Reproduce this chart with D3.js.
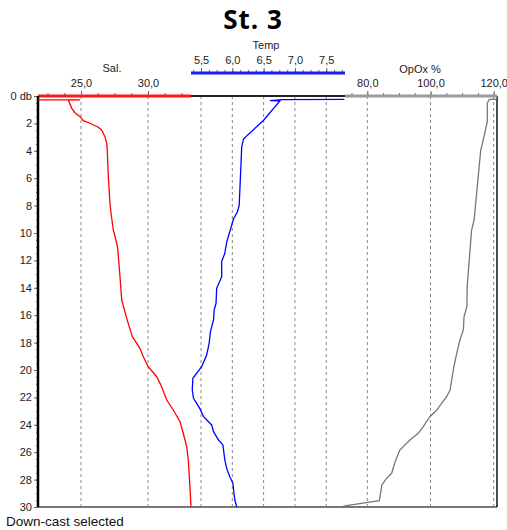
<!DOCTYPE html>
<meta charset="utf-8">
<script src="https://cdn.jsdelivr.net/npm/d3@7"></script>
<style>
body { margin: 0; background: #fff; }
svg { font-family: Arial, "Liberation Sans", sans-serif; }
.tick text { font-size: 11px; fill: #222; }
.tick line { stroke: #666; }
.grid { stroke: #888; stroke-dasharray: 3,3; stroke-width: 1; }
.trace { fill: none; stroke-width: 1.3px; }
</style>
<body>
<script>

// tick labels
var depthTicks = [0, 2, 4, 6, 8, 10, 12, 14, 16, 18, 20, 22, 24, 26, 28, 30];
var salTicks = [25, 30];
var tempTicks = [5.5, 6.0, 6.5, 7.0, 7.5];
var oxTicks = [80, 100, 120];

// salinity profile (db, value)
var salDepth = [0.29, 0.29, 0.30, 0.90, 1.22, 1.51, 1.80, 1.99, 2.28, 2.48, 2.97, 3.45, 3.94, 5.89, 7.83, 8.54, 9.78, 10.73, 11.12, 13.19, 14.89, 16.23, 17.57, 18.42, 19.03, 19.76, 20.49, 21.22, 22.19, 22.92, 23.77, 24.62, 25.60, 26.57, 28.52, 29.98];
var salValues = [21.8, 24.93, 24.05, 24.31, 24.55, 24.93, 25.17, 25.67, 26.29, 26.54, 26.79, 26.92, 26.96, 27.04, 27.16, 27.24, 27.41, 27.66, 27.74, 27.91, 28.04, 28.41, 28.83, 29.40, 29.65, 30.02, 30.65, 31.02, 31.40, 31.89, 32.39, 32.63, 32.89, 33.01, 33.13, 33.21];

// temperature profile
var tempDepth = [0.24, 0.26, 0.34, 0.36, 1.77, 3.12, 3.72, 7.98, 8.47, 8.96, 10.66, 11.48, 12.09, 13.19, 14.04, 15.13, 15.62, 16.35, 17.20, 18.05, 18.91, 19.76, 20.61, 21.46, 22.07, 22.80, 23.41, 24.01, 24.50, 25.11, 25.47, 26.57, 27.18, 27.79, 28.27, 28.76, 29.49, 29.98];
var tempValues = [7.79, 6.81, 6.60, 6.76, 6.50, 6.18, 6.15, 6.11, 6.08, 6.02, 5.91, 5.88, 5.83, 5.83, 5.75, 5.74, 5.71, 5.70, 5.65, 5.63, 5.59, 5.51, 5.37, 5.36, 5.38, 5.48, 5.54, 5.67, 5.70, 5.78, 5.85, 5.88, 5.91, 5.96, 6.01, 6.02, 6.04, 6.07];

// oxygen saturation profile
var oxDepth = [0.24, 0.24, 0.53, 1.88, 3.70, 3.94, 9.05, 9.78, 13.92, 15.38, 16.11, 17.08, 17.81, 18.78, 19.76, 20.73, 21.46, 21.95, 22.43, 22.92, 23.41, 24.14, 24.62, 25.11, 25.84, 26.69, 27.54, 27.91, 28.39, 29.54, 29.93];
var oxValues = [120.95, 118.6, 117.97, 117.97, 116.2, 115.9, 113.8, 113.0, 111.6, 111.5, 110.6, 110.4, 109.3, 108.3, 107.4, 106.7, 106.2, 105.1, 103.5, 102.0, 99.8, 97.7, 96.1, 93.5, 90.3, 88.8, 87.7, 86.1, 84.6, 83.8, 72.4];

var W = 507, H = 530;
var plotL = 38, plotR = 497, plotT = 96, plotB = 507;

var svg = d3.select("body").append("svg")
    .attr("width", W)
    .attr("height", H);

var y = d3.scaleLinear().domain([0, 30]).range([plotT, plotB]);
var xSal = d3.scaleLinear().domain([21.79, 33.21]).range([plotL, 191]);
var xTemp = d3.scaleLinear().domain([5.34, 7.80]).range([191, 345]);
var xOx = d3.scaleLinear().domain([72.94, 121.04]).range([345, plotR]);

var comma = function(d) { return d3.format(".1f")(d).replace(".", ","); };

// dashed grid
var gridX = salTicks.map(xSal).concat(tempTicks.map(xTemp), oxTicks.map(xOx));
svg.selectAll(".grid")
    .data(gridX)
  .enter().append("line")
    .attr("class", "grid")
    .attr("x1", function(d) { return d; })
    .attr("x2", function(d) { return d; })
    .attr("y1", plotT)
    .attr("y2", plotB);

// frame
svg.append("line").attr("x1", plotL).attr("x2", plotR).attr("y1", plotB).attr("y2", plotB)
    .attr("stroke", "#777").attr("stroke-width", 2);
svg.append("line").attr("x1", plotR).attr("x2", plotR).attr("y1", plotT).attr("y2", plotB)
    .attr("stroke", "#111").attr("stroke-width", 1.5);
svg.append("line").attr("x1", 191).attr("x2", 345).attr("y1", plotT).attr("y2", plotT)
    .attr("stroke", "#222").attr("stroke-width", 2);

// top axes: minor + major ticks
function topAxis(scale, minorStep, majors, ypos, color) {
  var d0 = scale.domain();
  var minor = d3.range(Math.ceil(d0[0] / minorStep) * minorStep, d0[1], minorStep);
  svg.append("g")
      .attr("transform", "translate(0," + ypos + ")")
      .call(d3.axisTop(scale).tickValues(minor).tickSize(3).tickFormat(""))
      .call(function(g) { g.select(".domain").remove(); });
  svg.append("g")
      .attr("transform", "translate(0," + ypos + ")")
      .call(d3.axisTop(scale).tickValues(majors).tickSize(5).tickPadding(4).tickFormat(comma))
      .call(function(g) { g.select(".domain").remove(); });
  svg.append("line")
      .attr("x1", scale.range()[0]).attr("x2", scale.range()[1])
      .attr("y1", ypos).attr("y2", ypos)
      .attr("stroke", color).attr("stroke-width", 3);
}

topAxis(xSal, 1.25, salTicks, plotT, "#ff1a1a");
topAxis(xTemp, 0.125, tempTicks, 73, "#1a1aff");
topAxis(xOx, 5, oxTicks, plotT, "#999");

// axis titles
svg.append("text").attr("x", 112).attr("y", 72).attr("text-anchor", "middle")
    .style("font-size", "11px").style("fill", "#222").text("Sal.");
svg.append("text").attr("x", 266).attr("y", 49).attr("text-anchor", "middle")
    .style("font-size", "11px").style("fill", "#222").text("Temp");
svg.append("text").attr("x", 420).attr("y", 73).attr("text-anchor", "middle")
    .style("font-size", "11px").style("fill", "#222").text("OpOx %");

// depth axis
svg.append("g")
    .attr("transform", "translate(" + plotL + ",0)")
    .call(d3.axisLeft(y).tickValues(d3.range(0, 30.01, 0.5)).tickSize(2).tickFormat(""))
    .call(function(g) { g.select(".domain").remove(); });
svg.append("g")
    .attr("transform", "translate(" + plotL + ",0)")
    .call(d3.axisLeft(y).tickValues(depthTicks).tickSize(4).tickPadding(2)
      .tickFormat(function(d) { return d === 0 ? "0 db" : d; }))
    .call(function(g) { g.select(".domain").remove(); });
svg.append("line").attr("x1", plotL).attr("x2", plotL).attr("y1", plotT).attr("y2", plotB)
    .attr("stroke", "#000").attr("stroke-width", 2.5);

// profiles
function profile(depths, values, scale, color) {
  var pts = depths.map(function(d, i) { return [values[i], d]; });
  svg.append("path")
      .datum(pts)
      .attr("class", "trace")
      .style("stroke", color)
      .attr("d", d3.line()
        .x(function(p) { return scale(p[0]); })
        .y(function(p) { return y(p[1]); }));
}

profile(oxDepth, oxValues, xOx, "#777");
profile(salDepth, salValues, xSal, "#ff0000");
profile(tempDepth, tempValues, xTemp, "#0000ff");

// title + footer
svg.append("text").attr("x", 253).attr("y", 29).attr("text-anchor", "middle")
    .style("font-family", "'Open Sans', sans-serif").style("font-weight", "bold")
    .style("font-size", "26px").style("letter-spacing", "1px").text("St. 3");
svg.append("text").attr("x", 6).attr("y", 526)
    .style("font-size", "13.5px").style("fill", "#111").text("Down-cast selected");

</script>
</body>
